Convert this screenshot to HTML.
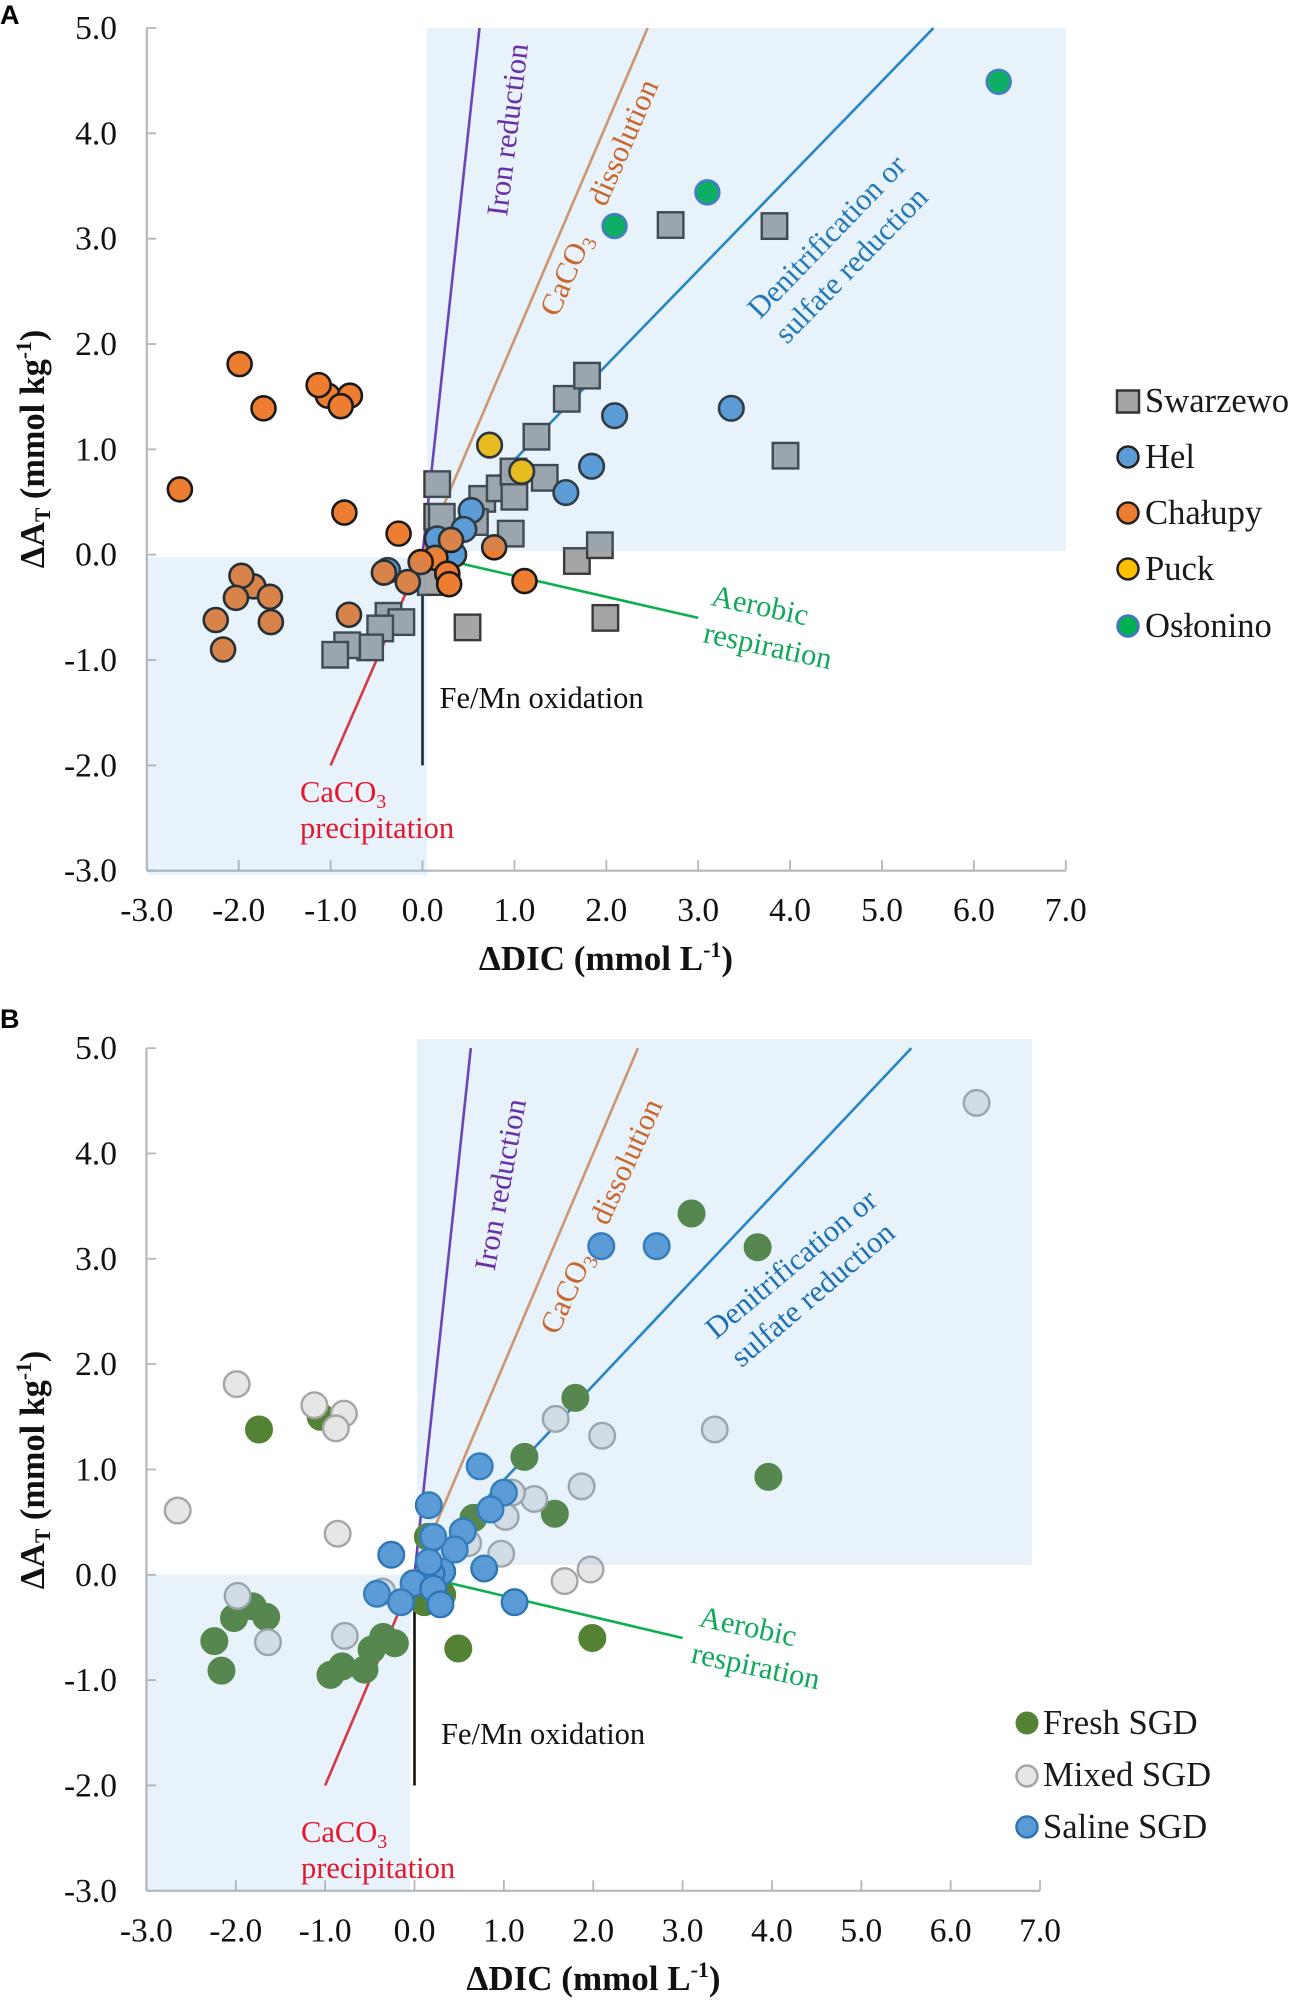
<!DOCTYPE html>
<html lang="en">
<head>
<meta charset="utf-8">
<title>Delta AT versus Delta DIC</title>
<style>
html,body{margin:0;padding:0;background:#fff;}
svg{display:block;}
text{font-family:"Liberation Serif",serif;}
.note{font-size:30.5px;}
.panel-label{font-family:"Liberation Sans",sans-serif;font-weight:bold;font-size:27px;fill:#000;}
.legend-text{font-size:34.6px;fill:#1a1a1a;}
.axis-title{font-size:35px;font-weight:bold;fill:#111;}
</style>
</head>
<body>
<svg id="fig" width="1300" height="2005" viewBox="0 0 1300 2005" xmlns="http://www.w3.org/2000/svg">
  <rect width="1300" height="2005" fill="#fff"/>

  <g id="panel-a">
    <g id="a-axes"></g>
    <g id="a-lines"></g>
    <g id="a-points"></g>
    <rect x="427" y="28" width="639" height="523" fill="#5BA5DB" opacity="0.15"/>
    <rect x="147" y="557.5" width="280" height="317.5" fill="#5BA5DB" opacity="0.15"/>
    <text class="panel-label" x="0" y="24">A</text>
    <text class="axis-title" x="606" y="970" text-anchor="middle">ΔDIC (mmol L<tspan font-size="22" dy="-13">-1</tspan><tspan dy="13">)</tspan></text>
    <text class="axis-title" transform="translate(44,449) rotate(-90) scale(0.98,1)" text-anchor="middle">ΔA<tspan font-size="22" dy="6">T</tspan><tspan dy="-6"> (mmol kg</tspan><tspan font-size="22" dy="-13">-1</tspan><tspan dy="13">)</tspan></text>
    <text class="note" fill="#6A2FA5" transform="translate(507,217) rotate(-83)">Iron reduction</text>
    <text class="note" fill="#C9662B" transform="translate(557.6,318) rotate(-66.5)">CaCO<tspan font-size="20" dy="6">3</tspan><tspan dy="-6" dx="34">dissolution</tspan></text>
    <text class="note" fill="#2478B8" transform="translate(760,320) rotate(-46)">Denitrification or</text>
    <text class="note" fill="#2478B8" transform="translate(787,345) rotate(-45.7)">sulfate reduction</text>
    <text class="note" fill="#12A85C" transform="translate(710,605) rotate(12)">Aerobic</text>
    <text class="note" fill="#12A85C" transform="translate(702,642) rotate(12)">respiration</text>
    <text class="note" fill="#111" x="439.5" y="708">Fe/Mn oxidation</text>
    <text class="note" fill="#E3172D" x="300" y="802">CaCO<tspan font-size="20" dy="6">3</tspan></text>
    <text class="note" fill="#E3172D" x="300" y="838">precipitation</text>
    <g>
      <rect x="1117" y="390.5" width="22" height="22" fill="#A5A5A5" stroke="#333" stroke-width="2.5"/>
      <text class="legend-text" x="1145" y="412">Swarzewo</text>
      <circle cx="1128" cy="457" r="10.5" fill="#5B9BD5" stroke="#222" stroke-width="2.5"/>
      <text class="legend-text" x="1145" y="468">Hel</text>
      <circle cx="1128" cy="513" r="10.5" fill="#ED7D31" stroke="#222" stroke-width="2.5"/>
      <text class="legend-text" x="1145" y="524">Chałupy</text>
      <circle cx="1128" cy="569" r="10.5" fill="#FFC000" stroke="#222" stroke-width="2.5"/>
      <text class="legend-text" x="1145" y="580">Puck</text>
      <circle cx="1128" cy="626" r="10.5" fill="#00B050" stroke="#4472C4" stroke-width="2.5"/>
      <text class="legend-text" x="1145" y="637">Osłonino</text>
    </g>
  </g>

  <g id="panel-b">
    <g id="b-axes"></g>
    <g id="b-lines"></g>
    <g id="b-points"></g>
    <rect x="417" y="1039" width="615" height="526" fill="#5BA5DB" opacity="0.15"/>
    <rect x="147" y="1574.5" width="263" height="316" fill="#5BA5DB" opacity="0.15"/>
    <text class="panel-label" x="0" y="1028">B</text>
    <text class="axis-title" x="593.5" y="1990" text-anchor="middle">ΔDIC (mmol L<tspan font-size="22" dy="-13">-1</tspan><tspan dy="13">)</tspan></text>
    <text class="axis-title" transform="translate(44,1470) rotate(-90) scale(0.98,1)" text-anchor="middle">ΔA<tspan font-size="22" dy="6">T</tspan><tspan dy="-6"> (mmol kg</tspan><tspan font-size="22" dy="-13">-1</tspan><tspan dy="13">)</tspan></text>
    <text class="note" fill="#6A2FA5" transform="translate(494.5,1271.7) rotate(-79.5)">Iron reduction</text>
    <text class="note" fill="#C9662B" transform="translate(557.6,1336) rotate(-65.5)">CaCO<tspan font-size="20" dy="6">3</tspan><tspan dy="-6" dx="34">dissolution</tspan></text>
    <text class="note" fill="#1F6FB5" transform="translate(716,1340) rotate(-40)">Denitrification or</text>
    <text class="note" fill="#1F6FB5" transform="translate(741.5,1368.3) rotate(-40.5)">sulfate reduction</text>
    <text class="note" fill="#12A85C" transform="translate(698,1626) rotate(12)">Aerobic</text>
    <text class="note" fill="#12A85C" transform="translate(690,1662.3) rotate(12)">respiration</text>
    <text class="note" fill="#111" x="441" y="1744">Fe/Mn oxidation</text>
    <text class="note" fill="#E3172D" x="301" y="1842">CaCO<tspan font-size="20" dy="6">3</tspan></text>
    <text class="note" fill="#E3172D" x="301" y="1878">precipitation</text>
    <g>
      <circle cx="1027" cy="1723" r="11.5" fill="#548235"/>
      <text class="legend-text" x="1043" y="1734">Fresh SGD</text>
      <circle cx="1027" cy="1776" r="10.5" fill="#E7E6E6" stroke="#A5A5A5" stroke-width="2.5"/>
      <text class="legend-text" x="1043" y="1786">Mixed SGD</text>
      <circle cx="1027" cy="1827" r="10.5" fill="#5B9BD5" stroke="#2E75B6" stroke-width="2.5"/>
      <text class="legend-text" x="1043" y="1838">Saline SGD</text>
    </g>
  </g>
</svg>

<script>
// Shared axis ticks
const xTickValues = [-3, -2, -1, 0, 1, 2, 3, 4, 5, 6, 7];
const yTickValues = [-3, -2, -1, 0, 1, 2, 3, 4, 5];
const xTickLabels = ['-3.0', '-2.0', '-1.0', '0.0', '1.0', '2.0', '3.0', '4.0', '5.0', '6.0', '7.0'];
const yTickLabels = ['-3.0', '-2.0', '-1.0', '0.0', '1.0', '2.0', '3.0', '4.0', '5.0'];

// Reaction vectors: each starts at (0,0) and ends at these values
const processNames = ['iron-reduction', 'caco3-dissolution', 'denitrification', 'aerobic-respiration', 'caco3-precipitation', 'fe-mn-oxidation'];
const panelAProcessDIC = [0.62, 2.45, 5.56, 3.0, -1.0, 0.0];
const panelAProcessAT = [5, 5, 5, -0.6, -2, -2];
const panelBProcessDIC = [0.63, 2.50, 5.56, 3.0, -1.0, 0.0];
const panelBProcessAT = [5, 5, 5, -0.6, -2, -2];

// Panel A: sites
const swarzewoDIC = [0.16, 0.16, 0.21, 0.65, 0.84, 1.00, 0.99, 1.33, 1.24, 1.57, 1.79, 0.57, 0.96, 1.68, 1.93, 0.49, 1.99, 0.09, -0.37, -0.23, -0.46, -0.57, -0.82, -0.95, 2.70, 3.83, 3.95];
const swarzewoAT = [0.67, 0.36, 0.36, 0.53, 0.63, 0.55, 0.79, 0.73, 1.12, 1.48, 1.70, 0.31, 0.20, -0.06, 0.09, -0.69, -0.60, -0.26, -0.58, -0.64, -0.70, -0.88, -0.86, -0.95, 3.13, 3.12, 0.94];
const oslononoDIC = [2.09, 3.10, 6.27];
const oslononoAT = [3.12, 3.44, 4.49];
const helDIC = [1.56, 1.84, 2.09, 3.36, 0.53, 0.45, 0.16, -0.38, 0.34];
const helAT = [0.59, 0.84, 1.32, 1.39, 0.42, 0.24, 0.15, -0.15, 0.0];
const puckDIC = [0.73, 1.08];
const puckAT = [1.04, 0.79];
const chalupyDIC = [-1.99, -1.73, -1.03, -0.79, -1.13, -0.89, -2.64, -0.85, -0.26, -1.84, -1.97, -2.03, -1.66, -2.25, -1.65, -2.17, -0.80, -0.42, -0.16, 0.14, -0.02, 0.31, 0.78, 0.27, 0.29, 1.11];
const chalupyAT = [1.81, 1.39, 1.51, 1.51, 1.61, 1.41, 0.62, 0.40, 0.20, -0.30, -0.20, -0.41, -0.40, -0.62, -0.64, -0.90, -0.57, -0.17, -0.26, -0.03, -0.07, 0.14, 0.07, -0.18, -0.28, -0.25];

// Panel B: SGD types
const freshDIC = [-1.74, -1.05, 1.23, 1.57, 0.66, 0.15, 1.80, 0.31, 0.11, 0.49, 1.99, -1.81, -2.02, -1.66, -2.24, -2.16, -0.35, -0.22, -0.48, -0.56, -0.81, -0.94, 3.10, 3.84, 3.96];
const freshAT = [1.38, 1.50, 1.12, 0.58, 0.54, 0.36, 1.68, -0.19, -0.26, -0.70, -0.60, -0.30, -0.41, -0.40, -0.63, -0.91, -0.59, -0.65, -0.71, -0.90, -0.87, -0.95, 3.43, 3.11, 0.93];
const mixedDIC = [-2.65, -0.86, -1.98, -1.64, -0.78, -0.36, 0.97, 1.87, 2.10, 1.58, 1.34, 1.09, 1.02, 0.60, 1.68, 1.97, -1.99, -0.79, -1.12, -0.88, 6.29, 3.36];
const mixedAT = [0.61, 0.39, -0.20, -0.64, -0.58, -0.16, 0.20, 0.84, 1.32, 1.48, 0.72, 0.78, 0.55, 0.30, -0.06, 0.05, 1.81, 1.53, 1.61, 1.39, 4.48, 1.38];
const salineDIC = [0.31, 0.73, 0.16, 1.00, 0.85, 0.54, 0.45, 0.21, -0.26, 0.19, 0.16, 0.78, -0.01, -0.42, -0.15, 0.21, 0.29, 1.12, 2.09, 2.71];
const salineAT = [0.03, 1.03, 0.66, 0.78, 0.62, 0.41, 0.24, 0.36, 0.19, 0.01, 0.12, 0.06, -0.08, -0.18, -0.26, -0.13, -0.28, -0.26, 3.12, 3.12];

const NS = 'http://www.w3.org/2000/svg';
const processColors = ['#6F35B0', '#E0935F', '#1F80C0', '#0BB04F', '#E8262D', '#111111'];

function shape(tag, attrs, parent) {
  const node = document.createElementNS(NS, tag);
  Object.keys(attrs).forEach(function (k) { node.setAttribute(k, attrs[k]); });
  parent.appendChild(node);
  return node;
}

function xScale(panel, v) { return panel.x0 + v * panel.xUnit; }
function yScale(panel, v) { return panel.y0 - v * panel.yUnit; }

function drawAxes(panel) {
  const g = document.getElementById(panel.id + '-axes');
  const axisColor = '#B7B7B7';
  const left = xScale(panel, -3), right = xScale(panel, 7);
  const top = yScale(panel, 5), bottom = yScale(panel, -3);
  const yAxis = shape('line', {x1: left, x2: left, y1: top, y2: bottom, stroke: axisColor, 'stroke-width': 2.2}, g);
  
  
  const xAxis = shape('line', {x1: left, x2: right, y1: bottom, y2: bottom, stroke: axisColor, 'stroke-width': 2.2}, g);
  
  
  xTickValues.forEach(function (v, i) {
    const px = xScale(panel, v);
    const tick = shape('line', {x1: px, x2: px, y1: bottom, y2: bottom - 10.5, stroke: axisColor, 'stroke-width': 1.8}, g);
    
    
    const label = shape('text', {x: px, y: bottom + 50.5, 'text-anchor': 'middle', 'font-size': 33.5, fill: '#111'}, g);
    label.textContent = xTickLabels[i];
    
    
  });
  yTickValues.forEach(function (v, i) {
    const py = yScale(panel, v);
    const tick = shape('line', {x1: left, x2: left + 9.5, y1: py, y2: py, stroke: axisColor, 'stroke-width': 1.8}, g);
    
    
    const label = shape('text', {x: 117, y: py + 11, 'text-anchor': 'end', 'font-size': 33.5, fill: '#111'}, g);
    label.textContent = yTickLabels[i];
    
    
  });
}

function drawProcesses(panel, dicEnds, atEnds) {
  const g = document.getElementById(panel.id + '-lines');
  processNames.forEach(function (name, i) {
    const line = shape('line', {
      x1: xScale(panel, 0), y1: yScale(panel, 0),
      x2: xScale(panel, dicEnds[i]), y2: yScale(panel, atEnds[i]),
      stroke: processColors[i], 'stroke-width': 2.6
    }, g);
    
    
  });
}

function drawSeries(panel, seriesName, dic, at, style) {
  const g = document.getElementById(panel.id + '-points');
  dic.forEach(function (d, i) {
    const px = xScale(panel, d), py = yScale(panel, at[i]);
    let mark;
    if (style.square) {
      mark = shape('rect', {x: px - style.size / 2, y: py - style.size / 2, width: style.size, height: style.size, fill: style.fill, stroke: style.stroke, 'stroke-width': style.sw}, g);
    } else {
      mark = shape('circle', {cx: px, cy: py, r: style.r, fill: style.fill, stroke: style.stroke, 'stroke-width': style.sw}, g);
    }
    
    
  });
}

const panelA = {id: 'a', x0: 422.5, xUnit: 91.9, y0: 554.7, yUnit: 105.33};
const panelB = {id: 'b', x0: 414.5, xUnit: 89.36, y0: 1574.8, yUnit: 105.33};

drawAxes(panelA);
drawProcesses(panelA, panelAProcessDIC, panelAProcessAT);
drawSeries(panelA, 'swarzewo', swarzewoDIC, swarzewoAT, {square: true, size: 25.5, fill: '#A5A5A5', stroke: '#3A3A3A', sw: 2.4});
drawSeries(panelA, 'oslonino', oslononoDIC, oslononoAT, {r: 12, fill: '#00B050', stroke: '#4472C4', sw: 2.4});
drawSeries(panelA, 'hel', helDIC, helAT, {r: 12.3, fill: '#5B9BD5', stroke: '#2A2A2A', sw: 2.6});
drawSeries(panelA, 'puck', puckDIC, puckAT, {r: 12.3, fill: '#FFC000', stroke: '#222', sw: 2.6});
drawSeries(panelA, 'chalupy', chalupyDIC, chalupyAT, {r: 12, fill: '#ED7D31', stroke: '#1A1A1A', sw: 2.6});

drawAxes(panelB);
drawProcesses(panelB, panelBProcessDIC, panelBProcessAT);
drawSeries(panelB, 'fresh-sgd', freshDIC, freshAT, {r: 13.5, fill: '#548235', stroke: '#548235', sw: 1});
drawSeries(panelB, 'mixed-sgd', mixedDIC, mixedAT, {r: 12.8, fill: '#E7E6E6', stroke: '#A5A5A5', sw: 2.4});
drawSeries(panelB, 'saline-sgd', salineDIC, salineAT, {r: 12.8, fill: '#5B9BD5', stroke: '#2E75B6', sw: 2.4});
</script>
</body>
</html>
